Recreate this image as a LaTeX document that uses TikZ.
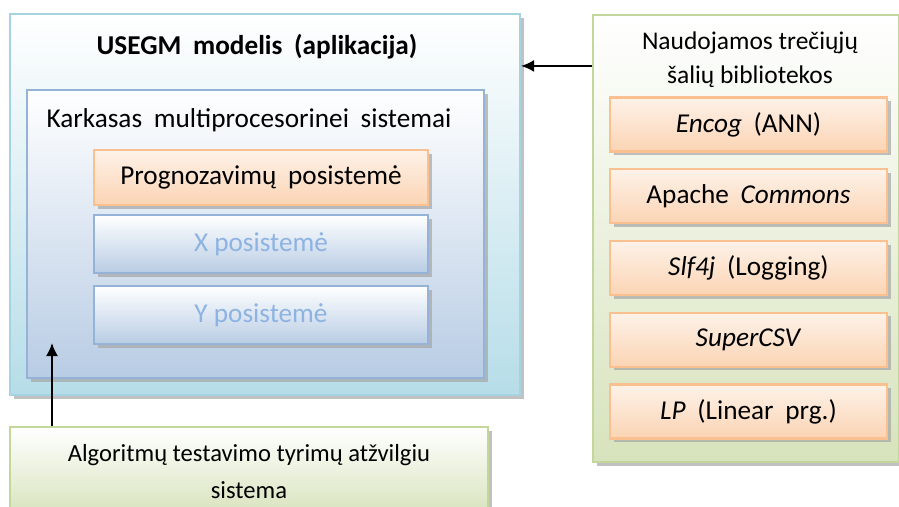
\documentclass[tikz,border=0pt]{standalone}
\usepackage{fontspec}
\setmainfont{Carlito}
\usetikzlibrary{
  positioning,
  arrows.meta,
  shadows
}
\definecolor{usBlue}{HTML}{A5D3E1}
\definecolor{usBlueL}{HTML}{B6DDE8}
\definecolor{usSteel}{HTML}{95B3D7}
\definecolor{usSteelL}{HTML}{B8CCE4}
\definecolor{usSteelT}{HTML}{8DB3E2}
\definecolor{usOrange}{HTML}{FAC090}
\definecolor{usOrangeL}{HTML}{FBD4B4}
\definecolor{usGreen}{HTML}{C3D69B}
\definecolor{usGreenL}{HTML}{D7E3BC}
\newcommand\widespace{\spaceskip=0.43em\relax}

\begin{document}
\begin{tikzpicture}[
  every node/.style={font=\fontsize{15.5}{19.5}\selectfont\widespace,
    align=center},
  shade/.style={drop shadow={shadow xshift=0.07cm, shadow yshift=-0.07cm,
    fill=gray!70, opacity=0.7}},
  outerbox/.style={
    rectangle, draw=usBlue, line width=1.2pt, top color=white,
    bottom color=usBlueL, shade,
    minimum width=10.2cm, minimum height=7.62cm
  },
  frame/.style={
    rectangle, draw=usSteel, line width=1.2pt, top color=white,
    bottom color=usSteelL, shade,
    minimum width=9.14cm, minimum height=5.76cm
  },
  sub/.style={
    rectangle, draw=usSteel, line width=1.2pt, top color=white,
    bottom color=usSteelL, shade, text=usSteelT,
    font=\fontsize{15.5}{19.5}\selectfont,
    minimum width=6.68cm, minimum height=1.16cm
  },
  lib/.style={
    rectangle, draw=usOrange, line width=1.2pt, top color=usOrangeL!30,
    bottom color=usOrangeL, shade,
    minimum width=5.54cm, minimum height=1.08cm
  },
  greenbox/.style={
    rectangle, draw=usGreen, line width=1.2pt, top color=white,
    bottom color=usGreenL, shade
  },
  arrow/.style={-{Latex[length=2.6mm, width=2.4mm]}, line width=1pt}
]
 \useasboundingbox (0,0) rectangle (17.98,10.12);

 % Application
 \node[outerbox] (usegm) at (5.30,6.03) {};
 \node[font=\fontsize{15.5}{19.5}\selectfont\bfseries\widespace]
  (usegmt) at (5.14,9.18) {USEGM modelis (aplikacija)};
 \node[frame] (karkas) at (5.11,5.44) {};
 \node (karkast) at (4.98,7.72) {Karkasas multiprocesorinei sistemai};
 \node[lib, minimum width=6.68cm, minimum height=1.10cm] (prog) at (5.22,6.57)
  {Prognozavimų posistemė};
 \node[sub] (xsub) at (5.22,5.24) {X posistemė};
 \node[sub] (ysub) at (5.22,3.82) {Y posistemė};

 % Libraries
 \node[greenbox, minimum width=6.12cm, minimum height=8.94cm] (libs)
  at (14.92,5.35) {};
 \node[font=\fontsize{14.5}{19.5}\selectfont] (libst) at (15.00,8.92)
  {Naudojamos trečiųjų\\šalių bibliotekos};
 \foreach \i/\text in {0/\textit{Encog} (ANN), 1/Apache \textit{Commons},
             2/\textit{Slf4j} (Logging), 3/\textit{SuperCSV},
             4/\textit{LP} (Linear prg.)} {
  \node[lib] (lib\i) at (14.97, 7.63 - \i*1.435) {\text};
 }

 % Testing system
 \node[greenbox, minimum width=9.56cm, minimum height=1.78cm,
  font=\fontsize{14}{21}\selectfont] (algo)
  at (4.98,0.69) {Algoritmų testavimo tyrimų atžvilgiu\\sistema};

 % Connectors
 \draw[arrow] ([yshift=-1.04cm]libs.north west) coordinate (lend)
  -- (lend -| usegm.east);
 \coordinate (tip) at (1.04,3.26);
 \draw[arrow] (algo.north -| tip) -- (tip);
\end{tikzpicture}
\end{document}
